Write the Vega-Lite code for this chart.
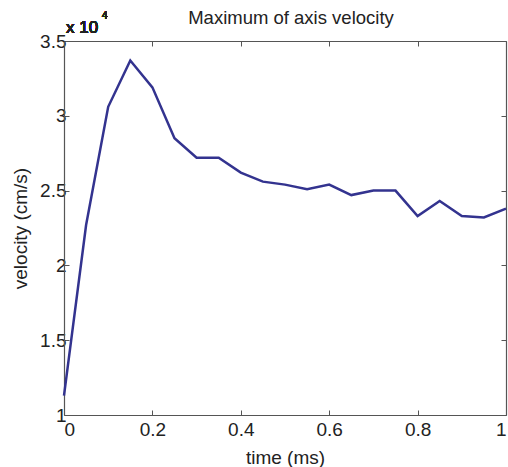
{
  "$schema": "https://vega.github.io/schema/vega-lite/v6.json",
  "width": 442,
  "height": 374,
  "autosize": {"type": "none"},
  "padding": {"left": 64, "top": 41, "right": 2, "bottom": 52},
  "background": "white",
  "title": {"text": "Maximum of axis velocity", "fontSize": 18.5, "font": "Liberation Sans", "fontWeight": "normal", "color": "#222222", "anchor": "middle", "frame": "group", "offset": 12, "dy": 28, "dx": 6},
  "data": {"values": [
    {"time": 0.0, "velocity": 11300},
    {"time": 0.05, "velocity": 22700},
    {"time": 0.1, "velocity": 30600},
    {"time": 0.15, "velocity": 33700},
    {"time": 0.2, "velocity": 31900},
    {"time": 0.25, "velocity": 28500},
    {"time": 0.3, "velocity": 27200},
    {"time": 0.35, "velocity": 27200},
    {"time": 0.4, "velocity": 26200},
    {"time": 0.45, "velocity": 25600},
    {"time": 0.5, "velocity": 25400},
    {"time": 0.55, "velocity": 25100},
    {"time": 0.6, "velocity": 25400},
    {"time": 0.65, "velocity": 24700},
    {"time": 0.7, "velocity": 25000},
    {"time": 0.75, "velocity": 25000},
    {"time": 0.8, "velocity": 23300},
    {"time": 0.85, "velocity": 24300},
    {"time": 0.9, "velocity": 23300},
    {"time": 0.95, "velocity": 23200},
    {"time": 1.0, "velocity": 23800}
  ]},
  "layer": [
    {
      "mark": {"type": "line", "color": "#33338f", "strokeWidth": 2.5},
      "encoding": {
        "x": {"field": "time", "type": "quantitative", "scale": {"domain": [0, 1], "nice": false},
          "axis": {"orient": "bottom", "values": [0, 0.2, 0.4, 0.6, 0.8, 1], "format": "~g", "title": "time (ms)", "grid": false, "tickSize": -5, "labelPadding": 10, "titlePadding": 9}},
        "y": {"field": "velocity", "type": "quantitative", "scale": {"domain": [10000, 35000], "nice": false, "zero": false},
          "axis": {"orient": "left", "values": [10000, 15000, 20000, 25000, 30000, 35000], "labelExpr": "format(datum.value/10000, '~g')", "title": "velocity (cm/s)", "grid": false, "tickSize": -5, "labelPadding": 3, "titlePadding": 9}}
      }
    },
    {
      "mark": {"type": "line", "strokeOpacity": 0},
      "encoding": {
        "x": {"field": "time", "type": "quantitative", "axis": {"orient": "top", "values": [0, 0.2, 0.4, 0.6, 0.8, 1], "labels": false, "title": null, "grid": false, "tickSize": -5}},
        "y": {"field": "velocity", "type": "quantitative", "axis": {"orient": "right", "values": [10000, 15000, 20000, 25000, 30000, 35000], "labels": false, "title": null, "grid": false, "tickSize": -5}}
      }
    },
    {
      "mark": {"type": "text", "text": "x 10", "align": "left", "baseline": "alphabetic", "dx": 2, "dy": -8, "fontSize": 17, "font": "Liberation Sans", "color": "#222222"},
      "encoding": {
        "x": {"datum": 0, "type": "quantitative", "axis": null},
        "y": {"datum": 35000, "type": "quantitative", "axis": null}
      }
    },
    {
      "mark": {"type": "text", "text": "4", "align": "left", "baseline": "alphabetic", "dx": 38, "dy": -22, "fontSize": 10, "font": "Liberation Sans", "color": "#222222"},
      "encoding": {
        "x": {"datum": 0, "type": "quantitative", "axis": null},
        "y": {"datum": 35000, "type": "quantitative", "axis": null}
      }
    }
  ],
  "resolve": {"axis": {"x": "independent", "y": "independent"}},
  "config": {
    "view": {"stroke": null},
    "axis": {"domainColor": "#555555", "tickColor": "#555555", "labelColor": "#222222", "titleColor": "#222222", "labelFont": "Liberation Sans", "titleFont": "Liberation Sans", "labelFontSize": 19, "titleFontSize": 19, "titleFontWeight": "normal", "domainWidth": 1.2, "tickWidth": 1}
  }
}
